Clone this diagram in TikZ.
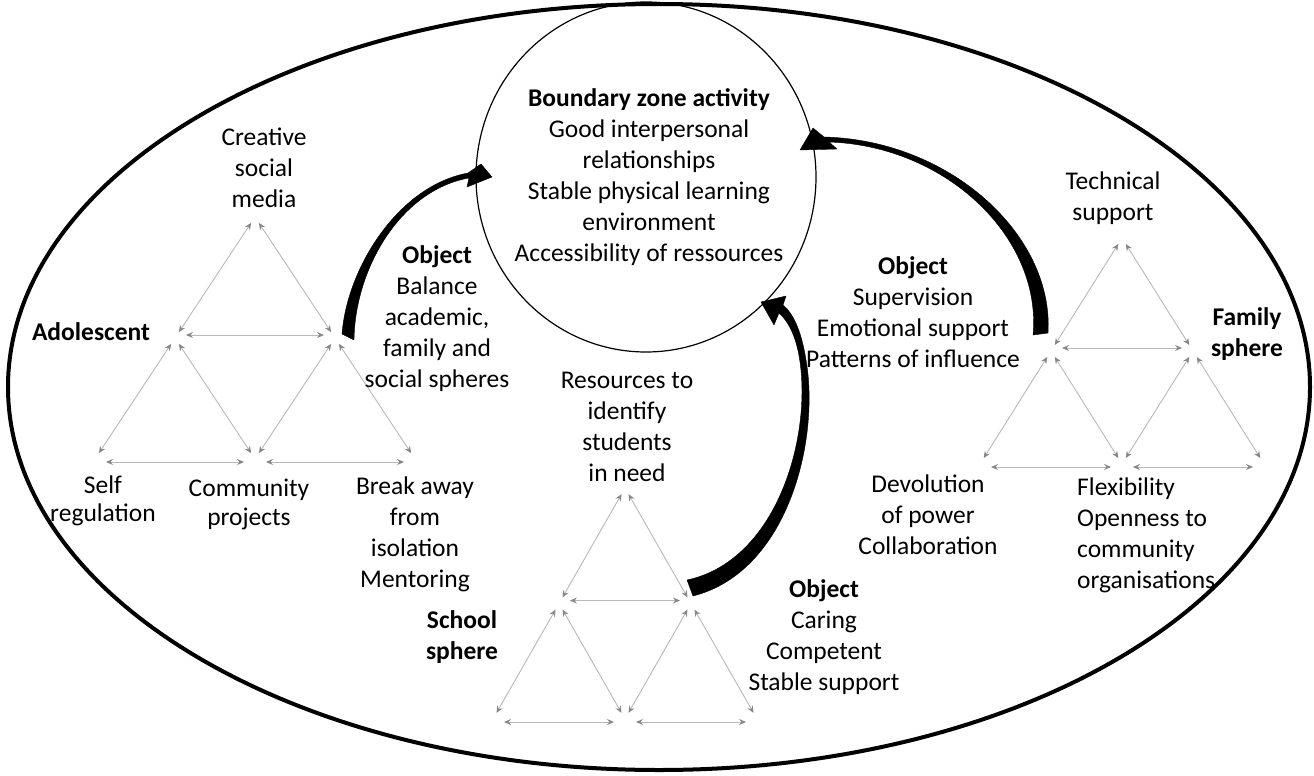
\documentclass[tikz,border=0pt]{standalone}
\usepackage{fontspec}
\setmainfont{Carlito}
\usetikzlibrary{arrows.meta,shapes.geometric}
\definecolor{triline}{RGB}{185,185,185}
\definecolor{trihead}{RGB}{135,135,135}
\newcommand\trigrid[5]{%
  \coordinate (#1T) at (#2,#3);
  \coordinate (#1ML) at ({#2-#4},{#3+#5});
  \coordinate (#1MR) at ({#2+#4},{#3+#5});
  \coordinate (#1BL) at ({#2-2*#4},{#3+2*#5});
  \coordinate (#1BM) at (#2,{#3+2*#5});
  \coordinate (#1BR) at ({#2+2*#4},{#3+2*#5});
  \draw[trislant] (#1T) -- (#1ML);
  \draw[trislant] (#1T) -- (#1MR);
  \draw[trihoriz] ([yshift=3pt]#1ML) -- ([yshift=3pt]#1MR);
  \draw[trislant] (#1ML) -- (#1BL);
  \draw[trislant] (#1ML) -- (#1BM);
  \draw[trihoriz] ([yshift=-3pt]#1BL) -- ([yshift=-3pt]#1BM);
  \draw[trislant] (#1MR) -- (#1BM);
  \draw[trislant] (#1MR) -- (#1BR);
  \draw[trihoriz] ([yshift=-3pt]#1BM) -- ([yshift=-3pt]#1BR);
}
\begin{document}
\begin{tikzpicture}[x=1pt,y=-1pt,
  >={Stealth[length=7pt,width=6pt,inset=2.5pt,color=trihead]},
  trislant/.style={draw=triline, line width=0.9pt, <->, shorten <=7pt, shorten >=7pt},
  trihoriz/.style={draw=triline, line width=0.9pt, <->, shorten <=11pt, shorten >=11pt},
  txt/.style={font=\fontsize{25.5}{31}\selectfont, align=center, inner sep=0pt},
  btxt/.style={txt, font=\fontsize{25.5}{31}\selectfont\bfseries},
  bigarrow/.style={fill=black, draw=black, line width=0.4pt, line join=round}]
\fill[white] (0,0) rectangle (1314,776);
\useasboundingbox (0,0) rectangle (1314,776);

% outer ellipse
\draw[line width=4pt] (659,387) ellipse [x radius=651pt, y radius=383pt];

% boundary zone circle
\node[ellipse, draw, line width=1.2pt, minimum width=340pt, minimum height=350pt, inner sep=0pt] (bz) at (646,177) {};
\node[txt] (bztext) at (649,177) {\textbf{Boundary zone activity}\\Good interpersonal\\relationships\\Stable physical learning\\environment\\Accessibility of ressources};

% triangle grids
\trigrid{ad}{255}{217}{80}{121}
\trigrid{sc}{625}{488}{66}{115.5}
\trigrid{fa}{1122}{238}{71}{113}

% adolescent texts
\node[txt] (adtop) at (264,168) {Creative\\social\\media};
\node[btxt] (adlabel) at (91,332) {Adolescent};
\node[txt] (adbl) at (103,501) {Self\\[-3pt]regulation};
\node[txt] (adbm) at (249,504) {Community\\[-2pt]projects};
\node[txt] (adbr) at (415,534) {Break away\\from\\isolation\\Mentoring};
\node[txt] (adobj) at (437,319) {\textbf{Object}\\Balance\\academic,\\family and\\social spheres};

% school texts
\node[txt] (sctop) at (627,427) {Resources to\\identify\\students\\in need};
\node[btxt] (sclabel) at (462,637) {School\\sphere};
\node[txt] (scobj) at (824,637) {\textbf{Object}\\Caring\\Competent\\Stable support};

% family texts
\node[txt] (fatop) at (1113,198) {Technical\\support};
\node[btxt] (falabel) at (1247,334) {Family\\sphere};
\node[txt] (faobj) at (913,312) {\textbf{Object}\\Supervision\\Emotional support\\Patterns of influence};
\node[txt] (fabl) at (928,515) {Devolution\\of power\\Collaboration};
\node[txt, align=left, anchor=west] (fabr) at (1077,535) {Flexibility\\Openness to\\community\\organisations};

% tapered curved arrows into the boundary zone
\coordinate (a1tail) at (348,337);
\coordinate (a1tip) at (492,177);
\fill[bigarrow] (342,334) .. controls (347,268) and (398,186) .. (468,173)
  -- (481,164) -- (a1tip) -- (467,187) -- (469,178)
  .. controls (401,190) and (355,268) .. (354,340) -- cycle;

\coordinate (a2tail) at (690,588);
\coordinate (a2tip) at (761,302);
\fill[bigarrow] (693,596) .. controls (788,572) and (820,440) .. (806,360)
  .. controls (802,335) and (795,315) .. (783,305)
  -- (786,296) -- (a2tip) -- (774,325) -- (779,313)
  .. controls (790,323) and (797,340) .. (800,362)
  .. controls (811,440) and (776,561) .. (687,580) -- cycle;

\coordinate (a3tail) at (1040,334);
\coordinate (a3tip) at (800,150);
\fill[bigarrow] (1048,333) .. controls (1054,235) and (950,140) .. (824,137)
  -- (813,128) -- (a3tip) -- (837,149) -- (829,142)
  .. controls (947,146) and (1042,238) .. (1033,335) -- cycle;
\end{tikzpicture}
\end{document}
